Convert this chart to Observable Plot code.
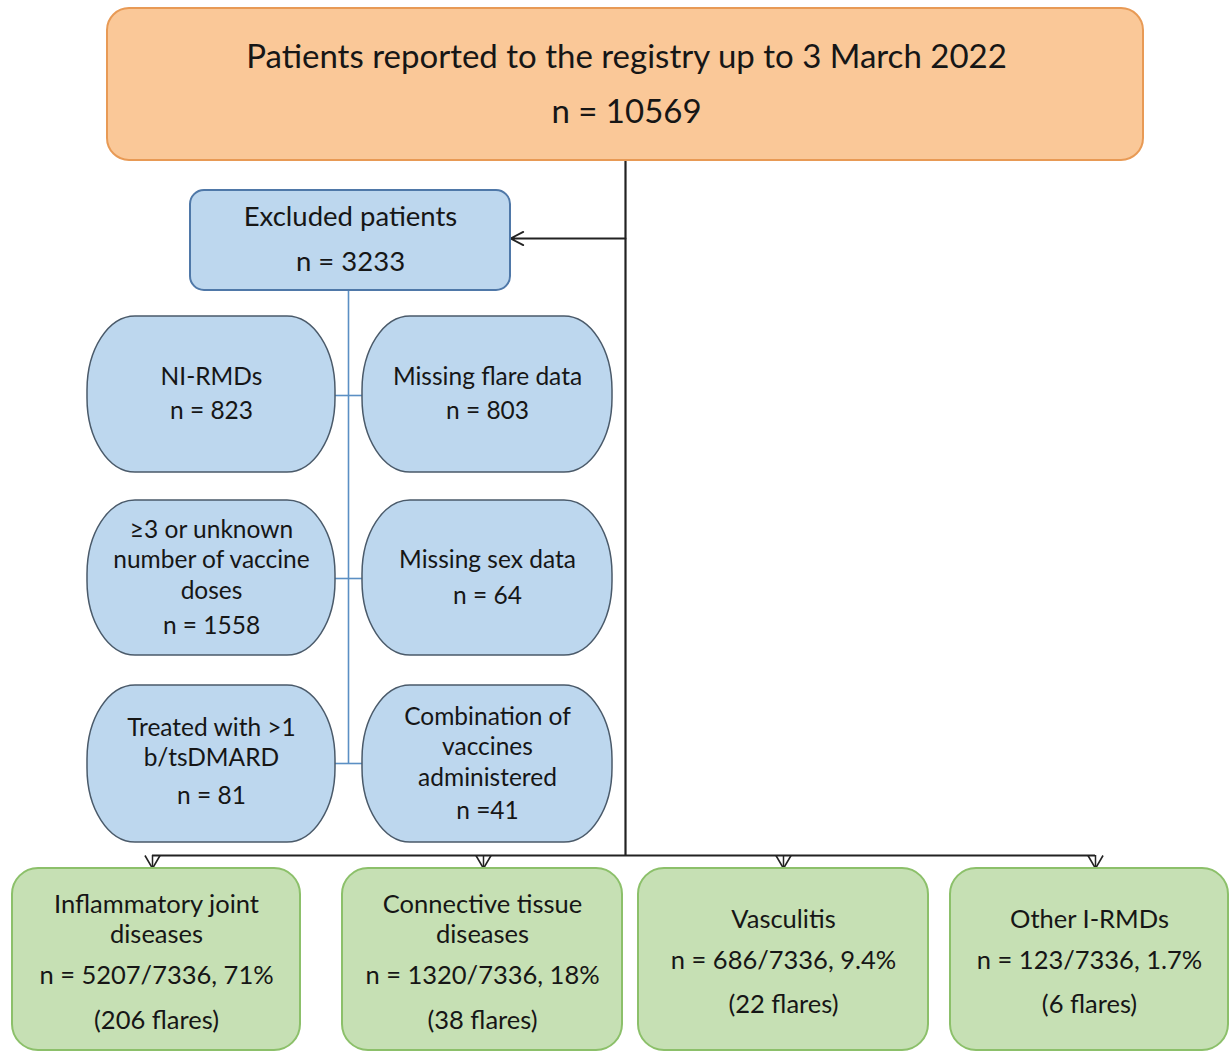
<!DOCTYPE html>
<html><head><meta charset="utf-8">
<script src="https://cdn.jsdelivr.net/npm/d3@7"></script>
<script src="https://cdn.jsdelivr.net/npm/@observablehq/plot@0.6"></script>
<style>body{margin:0;background:#fff} #chart svg{display:block}</style>
</head><body><div id="chart"></div>
<script>
// ---------- data ----------
const registryTitle = "Patients reported to the registry up to 3 March 2022";
const registryN = 10569;
const excludedTitle = "Excluded patients";
const excludedN = 3233;
const exclusionReasons = ["NI-RMDs", "Missing flare data", "≥3 or unknown\nnumber of vaccine\ndoses", "Missing sex data", "Treated with >1\nb/tsDMARD", "Combination of\nvaccines\nadministered"];
const exclusionCounts = [823, 803, 1558, 64, 81, 41];
const exclusionSeparators = ["n = ", "n = ", "n = ", "n = ", "n = ", "n ="];
const groupNames = ["Inflammatory joint\ndiseases", "Connective tissue\ndiseases", "Vasculitis", "Other I-RMDs"];
const groupCounts = [5207, 1320, 686, 123];
const cohortTotal = 7336;
const groupPercents = ["71%", "18%", "9.4%", "1.7%"];
const groupFlares = [206, 38, 22, 6];

// ---------- layout (diagram geometry, pixel space) ----------
const W = 1231, H = 1053;
const FONT = "Lato, 'Open Sans', sans-serif";
const topBox = {x1: 107, x2: 1143, y1: 8, y2: 160, titleY: 57, nY: 112};
const exclBox = {x1: 190, x2: 510, y1: 190, y2: 290, titleY: 217, nY: 262};
const trunkX = 625, busY = 855, arrowY = 238;
const blueCols = [[87, 335], [362, 612]];
const blueRows = [[316, 472], [500, 655], [685, 842]];
const blueTextY = [[375, 411], [375, 411], [558, 626], [558, 596], [741, 796], [745, 811]];
const connectorY = [395, 578, 763];
const connectorX = 348;
const greenBoxes = [[12, 300], [342, 622], [638, 928], [950, 1228]];
const greenY = [868, 1050];
const greenArrowX = [152, 483, 783, 1095];
const greenTextY = [[918, 975, 1020], [918, 975, 1020], [918, 960, 1004], [918, 960, 1004]];

// ---------- tables built from data + layout ----------
const reasons = exclusionReasons.map((label, i) => {
  const col = blueCols[i % 2], row = blueRows[Math.floor(i / 2)];
  return {label, n: exclusionSeparators[i] + exclusionCounts[i], x1: col[0], x2: col[1], y1: row[0], y2: row[1],
    cx: (col[0] + col[1]) / 2, ly: blueTextY[i][0], ny: blueTextY[i][1]};
});
const groups = groupNames.map((name, i) => ({
  name, x1: greenBoxes[i][0], x2: greenBoxes[i][1], y1: greenY[0], y2: greenY[1],
  cx: (greenBoxes[i][0] + greenBoxes[i][1]) / 2, ax: greenArrowX[i],
  nLabel: `n = ${groupCounts[i]}/${cohortTotal}, ${groupPercents[i]}`,
  flares: `(${groupFlares[i]} flares)`,
  ly: greenTextY[i][0], ny: greenTextY[i][1], fy: greenTextY[i][2]
}));
const connectors = connectorY.map(y => ({y}));

const chevron = {draw(ctx, size) {
  const r = Math.sqrt(size / Math.PI);
  ctx.moveTo(-0.58 * r, -r); ctx.lineTo(0, 0); ctx.lineTo(0.58 * r, -r);
}};

const TEXT = "#161616";
const chart = Plot.plot({
  width: W, height: H, margin: 0,
  x: {domain: [0, W], range: [0, W], axis: null},
  y: {domain: [0, H], range: [0, H], axis: null},
  style: {fontFamily: FONT, background: "#fff"},
  marks: [
    // connectors
    Plot.ruleX([trunkX], {y1: topBox.y2, y2: busY, stroke: "#222", strokeWidth: 2.2}),
    Plot.ruleY([busY], {x1: greenArrowX[0], x2: greenArrowX[greenArrowX.length - 1], stroke: "#222", strokeWidth: 1.8}),
    Plot.arrow([{x1: trunkX, x2: exclBox.x2, y: arrowY}], {x1: "x1", x2: "x2", y1: "y", y2: "y", stroke: "#222", strokeWidth: 1.8, headLength: 12, headAngle: 55}),
    Plot.ruleX([connectorX], {y1: exclBox.y2, y2: connectors[2].y, stroke: "#5b8fc4", strokeWidth: 1.6}),
    Plot.ruleY(connectors, {y: "y", x1: blueCols[0][1], x2: blueCols[1][0], stroke: "#5b8fc4", strokeWidth: 1.6}),
    Plot.ruleX(groups, {x: "ax", y1: busY, y2: greenY[0], stroke: "#222", strokeWidth: 1.5}),
    Plot.dot(groups, {x: "ax", y: greenY[0], symbol: chevron, r: 13, stroke: "#222", fill: "none", strokeWidth: 1.6}),
    // boxes
    Plot.rect([topBox], {x1: "x1", x2: "x2", y1: "y1", y2: "y2", rx: 22, ry: 22, fill: "#fac898", stroke: "#e89a55", strokeWidth: 2}),
    Plot.rect([exclBox], {x1: "x1", x2: "x2", y1: "y1", y2: "y2", rx: 14, ry: 14, fill: "#bdd7ee", stroke: "#4f78a8", strokeWidth: 2}),
    Plot.rect(reasons, {x1: "x1", x2: "x2", y1: "y1", y2: "y2", rx: 48, ry: 74, fill: "#bdd7ee", stroke: "#4a5a6a", strokeWidth: 1.5}),
    Plot.rect(groups, {x1: "x1", x2: "x2", y1: "y1", y2: "y2", rx: 26, ry: 26, fill: "#c6e0b4", stroke: "#8cc06a", strokeWidth: 2}),
    // text
    Plot.text([registryTitle], {x: (topBox.x1 + topBox.x2) / 2 + 1, y: topBox.titleY, text: d => d, fontSize: 33, fill: TEXT}),
    Plot.text([`n = ${registryN}`], {x: (topBox.x1 + topBox.x2) / 2 + 1, y: topBox.nY, text: d => d, fontSize: 33, fill: TEXT}),
    Plot.text([excludedTitle], {x: (exclBox.x1 + exclBox.x2) / 2, y: exclBox.titleY, text: d => d, fontSize: 27.5, fill: TEXT}),
    Plot.text([`n = ${excludedN}`], {x: (exclBox.x1 + exclBox.x2) / 2, y: exclBox.nY, text: d => d, fontSize: 27.5, fill: TEXT}),
    Plot.text(reasons, {x: "cx", y: "ly", text: "label", fontSize: 24.5, lineHeight: 1.24, fill: TEXT}),
    Plot.text(reasons, {x: "cx", y: "ny", text: "n", fontSize: 24.5, fill: TEXT}),
    Plot.text(groups, {x: "cx", y: "ly", text: "name", fontSize: 25.5, lineHeight: 1.18, fill: TEXT}),
    Plot.text(groups, {x: "cx", y: "ny", text: "nLabel", fontSize: 25.5, fill: TEXT}),
    Plot.text(groups, {x: "cx", y: "fy", text: "flares", fontSize: 25.5, fill: TEXT})
  ]
});
document.getElementById("chart").append(chart);
</script>
</body></html>
